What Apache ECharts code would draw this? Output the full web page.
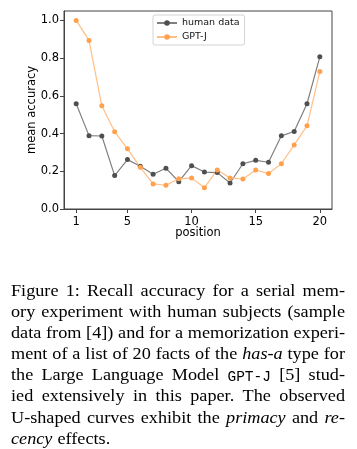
<!DOCTYPE html>
<html><head><meta charset="utf-8">
<script src="https://cdn.jsdelivr.net/npm/echarts@6/dist/echarts.min.js"></script>
<style>html,body{margin:0;padding:0;background:#fff}#c{width:357px;height:449px}</style>
</head><body><div id="c"></div>
<script>
const positions = [1,2,3,4,5,6,7,8,9,10,11,12,13,14,15,16,17,18,19,20];
const humanData = [0.558,0.389,0.387,0.177,0.262,0.227,0.184,0.216,0.145,0.230,0.196,0.193,0.138,0.240,0.258,0.248,0.388,0.411,0.558,0.807];
const gptjData = [1.000,0.894,0.547,0.410,0.319,0.221,0.133,0.126,0.160,0.165,0.113,0.207,0.165,0.159,0.207,0.188,0.240,0.340,0.441,0.729];
const xTicks = [1,5,10,15,20];
const yTicks = [0,0.2,0.4,0.6,0.8,1.0];
const seriesNames = ['human data','GPT-J'];
const axisNames = ['position','mean accuracy'];
const captionLines = [
  'Figure 1: Recall accuracy for a serial mem-',
  'ory experiment with human subjects (sample',
  'data from [4]) and for a memorization experi-',
  'ment of a list of 20 facts of the _has-a_ type for',
  'the Large Language Model `GPT-J` [5] stud-',
  'ied extensively in this paper. The observed',
  'U-shaped curves exhibit the _primacy_ and _re-_',
  '_cency_ effects.'
];

const SANS = 'DejaVu Sans';
const capLeft = 11, capRight = 345, capBase0 = 300, capStep = 21.1, capSize = 17, monoSize = 14.5, capScale = 1.07;
const ctx = document.createElement('canvas').getContext('2d');
function tokInfo(t){
  if (t.length > 2 && t[0] === '_' && t[t.length-1] === '_') return {text: t.slice(1,-1), font: 'italic ' + capSize + 'px "Liberation Serif"', sx: capScale};
  if (t.length > 2 && t[0] === '`' && t[t.length-1] === '`') return {text: t.slice(1,-1), font: monoSize + 'px "Liberation Mono"', sx: 1};
  return {text: t, font: capSize + 'px "Liberation Serif"', sx: capScale};
}
const graphics = [];
captionLines.forEach(function(line, li){
  const toks = line.split(' ').map(tokInfo);
  const last = li === captionLines.length - 1;
  let k = 1;
  function measure(){
    toks.forEach(function(tk){ ctx.font = tk.font; tk.w = ctx.measureText(tk.text).width * tk.sx * k; });
    return toks.reduce(function(s,t){return s+t.w;},0);
  }
  let total = measure();
  const minGap = capSize*0.25;
  if (!last && total + minGap*(toks.length-1) > capRight - capLeft) {
    k = (capRight - capLeft - minGap*(toks.length-1)) / total;
    total = measure();
  }
  const gap = last ? capSize*0.3 : (capRight - capLeft - total) / (toks.length - 1);
  let x = capLeft;
  const y = capBase0 + li*capStep;
  toks.forEach(function(tk){
    graphics.push({type:'text', x: x, y: y, scaleX: tk.sx * k, style:{text: tk.text, font: tk.font, fill:'#000', verticalAlign:'bottom'}});
    x += tk.w + gap;
  });
});

const chart = echarts.init(document.getElementById('c'), null, {renderer:'canvas'});
chart.setOption({
  animation: false,
  backgroundColor: '#fff',
  grid: {left: 64, right: 25, top: 11, bottom: 240, show: true, borderColor: '#444', borderWidth: 1, backgroundColor: 'transparent'},
  legend: {
    orient: 'vertical', left: 153, top: 15,
    itemWidth: 20, itemHeight: 7, itemGap: 4,
    padding: [3, 5, 3, 3],
    backgroundColor: '#fff', borderColor: '#d4d4d4', borderWidth: 1, borderRadius: 2,
    textStyle: {fontFamily: SANS, fontSize: 9.5, color: '#111', lineHeight: 10},
    data: seriesNames
  },
  xAxis: {
    type: 'value', min: 0.05, max: 20.95,
    name: axisNames[0], nameLocation: 'middle', nameGap: 18, nameMoveOverlap: false,
    nameTextStyle: {fontFamily: SANS, fontSize: 11.5, color: '#000'},
    axisLine: {show: true, lineStyle: {color: '#444', width: 1}},
    axisTick: {show: true, length: 4, customValues: xTicks, lineStyle: {color: '#444'}},
    axisLabel: {customValues: xTicks, fontFamily: SANS, fontSize: 11.5, color: '#000', margin: 7},
    splitLine: {show: false}
  },
  yAxis: {
    type: 'value', min: 0, max: 1.05,
    name: axisNames[1], nameLocation: 'middle', nameGap: 26, nameMoveOverlap: false,
    nameTextStyle: {fontFamily: SANS, fontSize: 11.5, color: '#000'},
    axisLine: {show: true, lineStyle: {color: '#444', width: 1}},
    axisTick: {show: true, length: 4, customValues: yTicks, lineStyle: {color: '#444'}},
    axisLabel: {customValues: yTicks, formatter: function(v){return v.toFixed(1);}, fontFamily: SANS, fontSize: 11.5, color: '#000', margin: 5},
    splitLine: {show: false}
  },
  series: [
    {type: 'line', name: seriesNames[0], data: positions.map(function(p,i){return [p, humanData[i]];}),
     symbol: 'circle', symbolSize: 5, showSymbol: true,
     lineStyle: {color: '#808080', width: 1.2}, itemStyle: {color: '#4f4f4f'}, emphasis: {disabled: true}},
    {type: 'line', name: seriesNames[1], data: positions.map(function(p,i){return [p, gptjData[i]];}),
     symbol: 'circle', symbolSize: 5, showSymbol: true,
     lineStyle: {color: '#ffbf86', width: 1.2}, itemStyle: {color: '#ffa14e'}, emphasis: {disabled: true}}
  ],
  graphic: graphics
});
</script></body></html>
